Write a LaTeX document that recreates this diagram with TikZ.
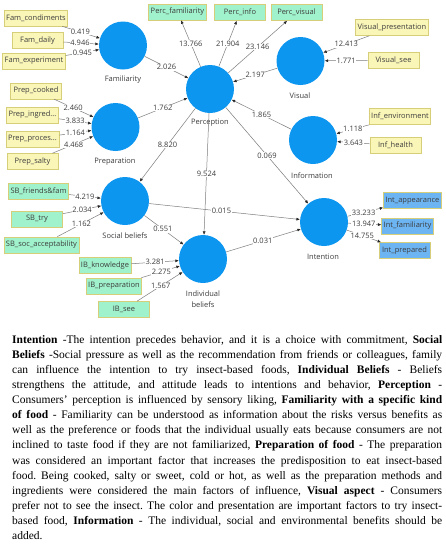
\documentclass[tikz,border=0pt]{standalone}
\usepackage{fontspec}
\setmainfont{Liberation Serif}
\newfontfamily\diagfont{Open Sans}
\usetikzlibrary{arrows.meta}
\definecolor{lvblue}{RGB}{12,150,240}
\definecolor{ybfill}{RGB}{250,246,184}
\definecolor{ybdraw}{RGB}{214,206,120}
\definecolor{gbfill}{RGB}{160,242,204}
\definecolor{bbfill}{RGB}{108,180,242}
\definecolor{linec}{RGB}{125,125,125}
\definecolor{tipc}{RGB}{40,40,40}
\definecolor{txtc}{RGB}{60,60,60}
\begin{document}
\begin{tikzpicture}[x=1pt,y=-1pt,
 lv/.style={circle,fill=lvblue,minimum size=48pt,inner sep=0pt},
 lvname/.style={font=\diagfont\fontsize{7.5}{11}\selectfont,text=txtc,inner sep=0pt,align=center},
 ind/.style={draw=ybdraw,line width=0.6pt,minimum height=16pt,minimum width=51pt,inner xsep=2pt,inner ysep=0pt,font=\diagfont\fontsize{7.5}{9}\selectfont,text=txtc},
 yind/.style={ind,fill=ybfill},
 gind/.style={ind,fill=gbfill},
 bind/.style={ind,fill=bbfill},
 conn/.style={draw=linec,line width=0.5pt,-{Latex[length=3.5pt,width=3pt,color=tipc]}},
 wt/.style={fill=white,inner sep=0.6pt,font=\diagfont\fontsize{7.5}{9}\selectfont,text=txtc},
]
\useasboundingbox[fill=white] (0,0) rectangle (446,550);

% latent variables
\node[lv] (fam) at (123,45.5) {};
\node[lv] (perc) at (210,89) {};
\node[lv] (vis) at (300.5,61) {};
\node[lv] (inf) at (313,140) {};
\node[lv] (prep) at (115.5,127) {};
\node[lv] (sb) at (125,201) {};
\node[lv] (ib) at (203,259) {};
\node[lv] (int) at (324,222) {};

\node[lvname] (famN) at (123,80) {Familiarity};
\node[lvname] (percN) at (210,123) {Perception};
\node[lvname] (visN) at (300,96) {Visual};
\node[lvname] (infN) at (312,176) {Information};
\node[lvname] (prepN) at (115,162) {Preparation};
\node[lvname] (sbN) at (125,236) {Social beliefs};
\node[lvname] (ibN) at (203,299.5) {Individual\\beliefs};
\node[lvname] (intN) at (323,257) {Intention};

% indicators
\node[yind] (fc) at (36,18) {Fam\_condiments};
\node[yind] (fd) at (37.5,40.5) {Fam\_daily};
\node[yind] (fe) at (34,61) {Fam\_experiment};
\node[gind] (pf) at (177.5,12) {Perc\_familiarity};
\node[gind] (pi) at (240,12.5) {Perc\_info};
\node[gind] (pv) at (296.5,12.5) {Perc\_visual};
\node[yind] (vp) at (392,27.5) {Visual\_presentation};
\node[yind] (vs) at (393.5,60) {Visual\_see};
\node[yind] (ie) at (400,116.5) {Inf\_environment};
\node[yind] (ih) at (395.5,145.5) {Inf\_health};
\node[yind] (pc) at (36,91) {Prep\_cooked};
\node[yind] (pg) at (32.5,115) {Prep\_ingred...};
\node[yind] (pp) at (32.5,139) {Prep\_proces...};
\node[yind] (ps) at (32.5,161.5) {Prep\_salty};
\node[gind] (sf) at (38.5,191) {SB\_friends\&fam};
\node[gind] (st) at (37,219) {SB\_try};
\node[gind] (sa) at (41.5,245) {SB\_soc\_acceptability};
\node[gind] (ik) at (105,265.5) {IB\_knowledge};
\node[gind] (ipp) at (114,286) {IB\_preparation};
\node[gind] (is) at (124,309.5) {IB\_see};
\node[bind] (ia) at (412.5,200.5) {Int\_appearance};
\node[bind] (ifm) at (407.5,226) {Int\_familiarity};
\node[bind] (ipr) at (404.5,250.5) {Int\_prepared};

% measurement paths
\draw[conn] (fc) -- node[wt,pos=.48]{0.419} (fam);
\draw[conn] (fd) -- node[wt,pos=.47]{4.946} (fam);
\draw[conn] (fe) -- node[wt,pos=.5]{0.945} (fam);
\draw[conn] (pc) -- node[wt,pos=.48]{2.460} (prep);
\draw[conn] (pg) -- node[wt,pos=.5]{3.833} (prep);
\draw[conn] (pp) -- node[wt,pos=.5]{1.164} (prep);
\draw[conn] (ps) -- node[wt,pos=.52]{4.468} (prep);
\draw[conn] (vp) -- node[wt,pos=.5]{12.413} (vis);
\draw[conn] (vs) -- node[wt,pos=.5]{1.771} (vis);
\draw[conn] (ie) -- node[wt,pos=.5]{1.118} (inf);
\draw[conn] (ih) -- node[wt,pos=.5]{3.643} (inf);
\draw[conn] (sf) -- node[wt,pos=.5]{4.219} (sb);
\draw[conn] (st) -- node[wt,pos=.5]{2.034} (sb);
\draw[conn] (sa) -- node[wt,pos=.52]{1.162} (sb);
\draw[conn] (ik) -- node[wt,pos=.5]{3.281} (ib);
\draw[conn] (ipp) -- node[wt,pos=.52]{2.275} (ib);
\draw[conn] (is) -- node[wt,pos=.52]{1.567} (ib);
\draw[conn] (perc) -- node[wt,pos=.5]{13.766} (pf);
\draw[conn] (perc) -- node[wt,pos=.5]{21.904} (pi);
\draw[conn] (perc) -- node[wt,pos=.5]{23.146} (pv);
\draw[conn] (int) -- node[wt,pos=.45]{33.233} (ia);
\draw[conn] (int) -- node[wt,pos=.47]{13.947} (ifm);
\draw[conn] (int) -- node[wt,pos=.45]{14.755} (ipr);

% structural paths
\draw[conn] (fam) -- node[wt,pos=.5]{2.026} (perc);
\draw[conn] (prep) -- node[wt,pos=.5]{1.762} (perc);
\draw[conn] (vis) -- node[wt,pos=.5]{2.197} (perc);
\draw[conn] (inf) -- node[wt,pos=.5]{1.865} (perc);
\draw[conn] (perc) -- node[wt,pos=.5]{8.820} (sb);
\draw[conn] (perc) -- node[wt,pos=.5]{9.524} (ib);
\draw[conn] (perc) -- node[wt,pos=.5]{0.069} (int);
\draw[conn] (sb) -- node[wt,pos=.48]{0.015} (int);
\draw[conn] (sb) -- node[wt,pos=.47]{0.551} (ib);
\draw[conn] (ib) -- node[wt,pos=.49]{0.031} (int);

% description
\node[anchor=north west,inner sep=0pt,text width=430pt,align=justify,
      font=\fontsize{11.5}{15.1}\selectfont] (desc) at (12,332.5)
{\frenchspacing\hyphenpenalty=10000\tolerance=9999\strut\textbf{Intention} -The intention precedes behavior, and it is a choice with commitment, \textbf{Social}\linebreak
\textbf{Beliefs} -Social pressure as well as the recommendation from friends or colleagues, family\linebreak
can influence the intention to try insect-based foods, \textbf{Individual Beliefs} - Beliefs\linebreak
strengthens the attitude, and attitude leads to intentions and behavior, \textbf{Perception} -\linebreak
Consumers' perception is influenced by sensory liking, \textbf{Familiarity with a specific kind}\linebreak
\textbf{of food} - Familiarity can be understood as information about the risks versus benefits as\linebreak
well as the preference or foods that the individual usually eats because consumers are not\linebreak
inclined to taste food if they are not familiarized, \textbf{Preparation of food} - The preparation\linebreak
was considered an important factor that increases the predisposition to eat insect-based\linebreak
food. Being cooked, salty or sweet, cold or hot, as well as the preparation methods and\linebreak
ingredients were considered the main factors of influence, \textbf{Visual aspect} - Consumers\linebreak
prefer not to see the insect. The color and presentation are important factors to try insect-\linebreak
based food, \textbf{Information} - The individual, social and environmental benefits should be\linebreak
added.};
\end{tikzpicture}
\end{document}
